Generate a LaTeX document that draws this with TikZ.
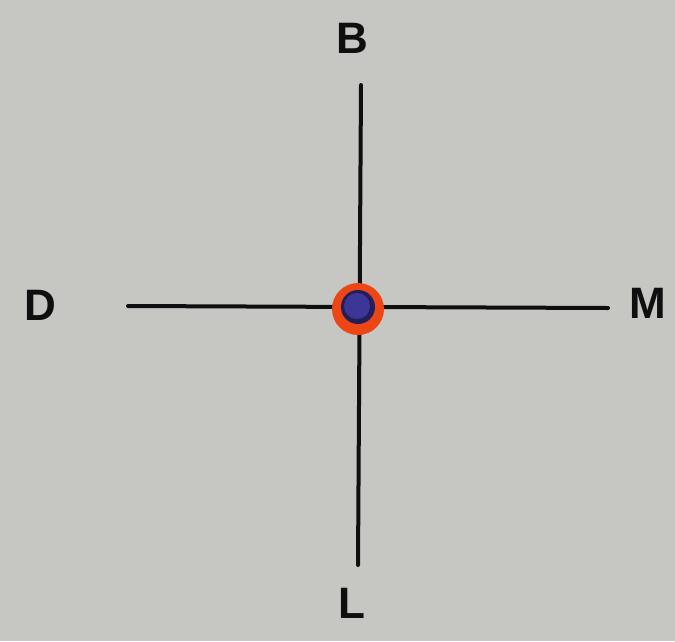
\documentclass[tikz,border=0pt]{standalone}
\usepackage{fontspec}
\setmainfont{Liberation Sans}
\definecolor{bg}{RGB}{198,198,194}
\definecolor{ink}{RGB}{15,15,15}
\definecolor{pinorange}{RGB}{235,70,20}
\definecolor{pinblue}{RGB}{60,55,150}
\definecolor{pindark}{RGB}{35,30,90}
\begin{document}
\begin{tikzpicture}[x=1pt,y=-1pt,
  lbl/.style={text=ink,font=\fontsize{44}{44}\selectfont\bfseries,inner sep=0pt},
  axis/.style={draw=ink,line width=4pt,line cap=round}]
\fill[bg] (0,0) rectangle (675,641);
\useasboundingbox (0,0) rectangle (675,641);
\coordinate (top) at (361,85);
\coordinate (bot) at (358,565);
\coordinate (lft) at (128,306);
\coordinate (rgt) at (608,308);
\draw[axis] (top) -- (bot);
\draw[axis] (lft) -- (rgt);
\node[lbl] (B) at (352,38) {B};
\node[lbl] (D) at (40,305) {D};
\node[lbl] (M) at (648,303) {M};
\node[lbl] (L) at (352,603) {L};
\node[circle,fill=pinorange,minimum size=52pt,inner sep=0pt] (pin) at (358,309) {};
\node[circle,fill=pindark,minimum size=34pt,inner sep=0pt] (pinb) at (358,307) {};
\node[circle,fill=pinblue,minimum size=26pt,inner sep=0pt] (pinc) at (357,306) {};
\end{tikzpicture}
\end{document}
